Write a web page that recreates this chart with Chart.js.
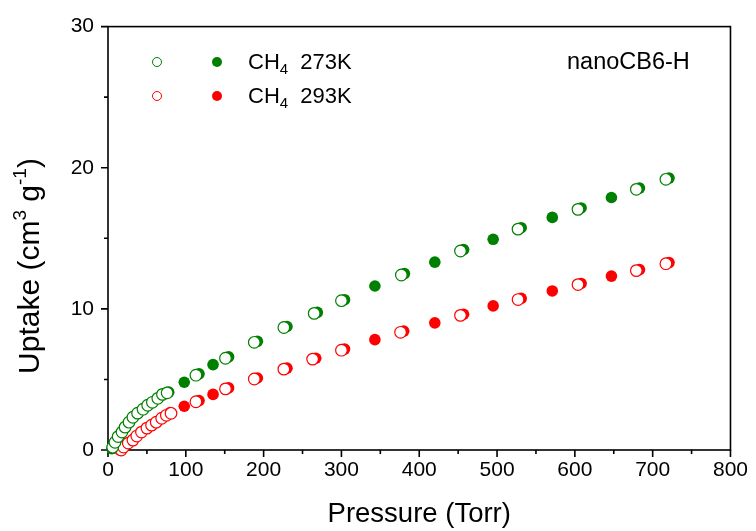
<!DOCTYPE html>
<html>
<head>
<meta charset="utf-8">
<script src="https://cdn.jsdelivr.net/npm/chart.js@4.4.0/dist/chart.umd.min.js"></script>
<style>
    body { margin: 0; background: #fff; }
    #wrap { width: 756px; height: 531px; }
</style>
</head>
<body>
<div id="wrap"><canvas id="chart"></canvas></div>
<script>
// CH4 273K, adsorption (filled) and desorption (open)
const pAds273 = [5, 78, 98, 117, 135, 155, 192, 230, 269, 304, 343, 381, 420, 457, 495, 531, 571, 608, 647, 683, 721];
const qAds273 = [0.1, 4.1, 4.8, 5.4, 6.05, 6.6, 7.7, 8.75, 9.75, 10.65, 11.62, 12.5, 13.31, 14.2, 14.93, 15.75, 16.48, 17.15, 17.89, 18.56, 19.27];
const pDes273 = [6, 9, 13, 18, 22, 27, 32, 38, 45, 51, 57, 64, 70, 76, 113, 151, 188, 226, 265, 300, 377, 453, 527, 604, 679, 717];
const qDes273 = [0.2, 0.55, 0.95, 1.27, 1.62, 1.97, 2.32, 2.61, 2.89, 3.17, 3.38, 3.66, 3.94, 4.05, 5.3, 6.5, 7.63, 8.68, 9.68, 10.58, 12.4, 14.1, 15.65, 17.05, 18.47, 19.18];

// CH4 293K
const pAds293 = [15, 80, 98, 117, 135, 155, 192, 230, 267, 304, 343, 380, 420, 457, 495, 531, 571, 608, 647, 683, 721];
const qAds293 = [0.0, 2.65, 3.1, 3.5, 3.94, 4.4, 5.1, 5.8, 6.5, 7.15, 7.82, 8.42, 9.01, 9.62, 10.21, 10.74, 11.27, 11.8, 12.32, 12.78, 13.28];
const pDes293 = [17, 20, 26, 32, 37, 43, 50, 56, 62, 69, 75, 81, 113, 151, 188, 226, 263, 300, 376, 453, 527, 604, 679, 717];
const qDes293 = [0.0, 0.21, 0.49, 0.7, 0.99, 1.27, 1.55, 1.76, 1.97, 2.25, 2.46, 2.6, 3.42, 4.33, 5.03, 5.73, 6.44, 7.07, 8.34, 9.54, 10.66, 11.72, 12.71, 13.2];

const xRange = [0, 800];
const yRange = [0, 30];
const xMajor = 100, xMinor = 50;
const yMajor = 10, yMinor = 5;

const GREEN = '#008000';
const RED = '#ff0000';
const FONT = '"Liberation Sans", Arial, sans-serif';

const toPoints = (xs, ys) => xs.map((v, i) => ({x: v, y: ys[i]}));

const frameAndTicks = {
    id: 'frameAndTicks',
    beforeDatasetsDraw(chart) {
        const {ctx, chartArea: a, scales: {x, y}} = chart;
        ctx.save();
        ctx.strokeStyle = '#000';
        ctx.lineWidth = 1.6;
        ctx.strokeRect(a.left, a.top, a.right - a.left, a.bottom - a.top);
        ctx.beginPath();
        for (let v = xRange[0]; v <= xRange[1]; v += xMinor) {
            const px = x.getPixelForValue(v);
            const len = v % xMajor === 0 ? 7 : 4;
            ctx.moveTo(px, a.bottom);
            ctx.lineTo(px, a.bottom + len);
        }
        for (let v = yRange[0]; v <= yRange[1]; v += yMinor) {
            const py = y.getPixelForValue(v);
            const len = v % yMajor === 0 ? 7 : 4;
            ctx.moveTo(a.left, py);
            ctx.lineTo(a.left - len, py);
        }
        ctx.stroke();
        ctx.restore();
    },
    afterDraw(chart) {
        const {ctx} = chart;
        ctx.save();
        ctx.fillStyle = '#000';
        ctx.textBaseline = 'middle';

        // y axis title with superscripts
        ctx.save();
        ctx.translate(31, 266);
        ctx.rotate(-Math.PI / 2);
        const big = '30px ' + FONT, small = '19px ' + FONT;
        const parts = [['Uptake (cm', big, 0], ['3', small, -10], [' g', big, 0], ['-1', small, -10], [')', big, 0]];
        let total = 0;
        parts.forEach(p => { ctx.font = p[1]; total += ctx.measureText(p[0]).width; });
        let cx = -total / 2;
        ctx.textAlign = 'left';
        parts.forEach(p => {
            ctx.font = p[1];
            ctx.fillText(p[0], cx, p[2]);
            cx += ctx.measureText(p[0]).width;
        });
        ctx.restore();

        // legend
        const rows = [[GREEN, '273K', 62], [RED, '293K', 96]];
        rows.forEach(r => {
            const [col, label, ly] = r;
            ctx.beginPath();
            ctx.arc(157, ly, 4.5, 0, Math.PI * 2);
            ctx.fillStyle = '#fff';
            ctx.fill();
            ctx.strokeStyle = col;
            ctx.lineWidth = 1;
            ctx.stroke();
            ctx.beginPath();
            ctx.arc(217, ly, 5, 0, Math.PI * 2);
            ctx.fillStyle = col;
            ctx.fill();
            ctx.fillStyle = '#000';
            ctx.textAlign = 'left';
            ctx.font = '22px ' + FONT;
            let tx = 248;
            ctx.fillText('CH', tx, ly + 1);
            tx += ctx.measureText('CH').width;
            ctx.font = '15px ' + FONT;
            ctx.fillText('4', tx, ly + 8);
            tx += ctx.measureText('4').width;
            ctx.font = '22px ' + FONT;
            ctx.fillText('  ' + label, tx, ly + 1);
        });

        ctx.font = '23.5px ' + FONT;
        ctx.textAlign = 'left';
        ctx.fillText('nanoCB6-H', 567, 63);
        ctx.restore();
    }
};

const ctx = document.getElementById('chart');
new Chart(ctx, {
    type: 'scatter',
    data: {
        datasets: [
            {
                label: 'CH4 273K desorption',
                data: toPoints(pDes273, qDes273),
                pointRadius: 5.8,
                pointBorderWidth: 1.2,
                borderColor: GREEN,
                backgroundColor: '#fff',
                clip: false,
                order: 1
            },
            {
                label: 'CH4 293K desorption',
                data: toPoints(pDes293, qDes293),
                pointRadius: 5.8,
                pointBorderWidth: 1.2,
                borderColor: RED,
                backgroundColor: '#fff',
                clip: false,
                order: 1
            },
            {
                label: 'CH4 273K adsorption',
                data: toPoints(pAds273, qAds273),
                pointRadius: 5.8,
                pointBorderWidth: 0,
                borderColor: GREEN,
                backgroundColor: GREEN,
                clip: false,
                order: 2
            },
            {
                label: 'CH4 293K adsorption',
                data: toPoints(pAds293, qAds293),
                pointRadius: 5.8,
                pointBorderWidth: 0,
                borderColor: RED,
                backgroundColor: RED,
                clip: false,
                order: 2
            }
        ]
    },
    options: {
        responsive: true,
        maintainAspectRatio: false,
        animation: false,
        layout: { padding: { top: 24, right: 22, left: 0, bottom: 0 } },
        plugins: {
            legend: { display: false },
            tooltip: { enabled: false }
        },
        scales: {
            x: {
                type: 'linear',
                min: xRange[0],
                max: xRange[1],
                grid: { display: false, drawTicks: false },
                border: { display: false },
                ticks: { stepSize: xMajor, padding: 8, color: '#000', font: { family: FONT, size: 21 } },
                title: { display: true, text: 'Pressure (Torr)', color: '#000', font: { family: FONT, size: 27.5 }, padding: { bottom: 0 } },
                afterFit(scale) { scale.height = 81; }
            },
            y: {
                min: yRange[0],
                max: yRange[1],
                grid: { display: false, drawTicks: false },
                border: { display: false },
                ticks: { stepSize: yMajor, padding: 14, color: '#000', font: { family: FONT, size: 21 } },
                afterFit(scale) { scale.width = 108; }
            }
        }
    },
    plugins: [frameAndTicks]
});
</script>
</body>
</html>
